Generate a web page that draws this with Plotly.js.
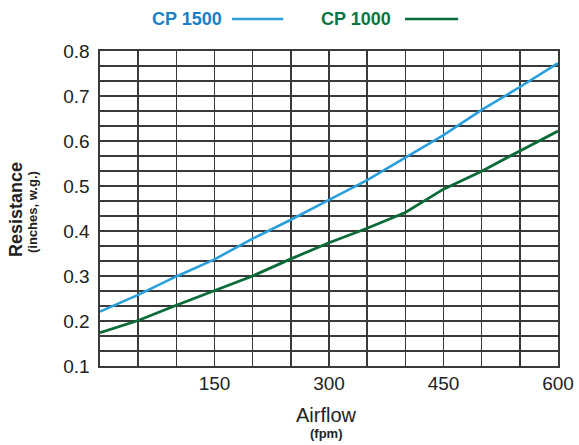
<!DOCTYPE html>
<html>
<head>
<meta charset="utf-8">
<script src="https://cdn.plot.ly/plotly-3.0.1.min.js"></script>
<style>html,body{margin:0;padding:0;background:#fff;}#chart{width:579px;height:445px;}</style>
</head>
<body>
<div id="chart"></div>
<script>
const airflow = [0, 50, 100, 150, 200, 250, 300, 350, 400, 450, 500, 550, 600];
const cp1500 = [0.221, 0.258, 0.299, 0.337, 0.383, 0.425, 0.469, 0.513, 0.563, 0.613, 0.669, 0.720, 0.773];
const cp1000 = [0.174, 0.201, 0.235, 0.267, 0.300, 0.338, 0.374, 0.406, 0.441, 0.493, 0.533, 0.578, 0.622];
const xTickVals = [150, 300, 450, 600];
const yTickVals = [0.1, 0.2, 0.3, 0.4, 0.5, 0.6, 0.7, 0.8];
const seriesNames = ["CP 1500", "CP 1000"];
const xTitle = "Airflow", xUnit = "(fpm)";
const yTitle = "Resistance", yUnit = "(inches, w.g.)";

const FONT = "'Liberation Sans', Arial, sans-serif";
const blue = "#2a9fdb", blueText = "#1a7fc6";
const green = "#0b6b38", greenText = "#0b7540";
const gridCol = "#3a3a3a";
const PH = 445 - 51 - 79, PW = 579 - 100 - 21;

const traces = [
  {x: airflow, y: cp1500, mode: "lines", name: seriesNames[0], line: {color: blue, width: 2.6}, hoverinfo: "x+y"},
  {x: airflow, y: cp1000, mode: "lines", name: seriesNames[1], line: {color: green, width: 2.8}, hoverinfo: "x+y"}
];

const legendY = 1 + 32 / PH;
const layout = {
  width: 579, height: 445,
  margin: {l: 100, r: 21, t: 51, b: 79},
  paper_bgcolor: "#fff", plot_bgcolor: "#fff",
  showlegend: false,
  font: {family: FONT, color: "#222"},
  xaxis: {
    range: [0, 600], tickvals: xTickVals, ticks: "",
    showgrid: true, gridcolor: gridCol, gridwidth: 1.4,
    minor: {dtick: 50, tick0: 0, showgrid: true, gridcolor: gridCol, gridwidth: 1.4, ticks: ""},
    showline: true, mirror: true, linecolor: gridCol, linewidth: 1.6,
    zeroline: false,
    tickfont: {size: 19, family: FONT, color: "#222"}
  },
  yaxis: {
    range: [0.1, 0.8], tickvals: yTickVals, tickformat: ".1f", ticks: "",
    showgrid: true, gridcolor: gridCol, gridwidth: 1.4,
    minor: {dtick: 1/30, tick0: 0.1, showgrid: true, gridcolor: gridCol, gridwidth: 1.4, ticks: ""},
    showline: true, mirror: true, linecolor: gridCol, linewidth: 1.6,
    zeroline: false,
    ticklabelstandoff: 5,
    tickfont: {size: 19, family: FONT, color: "#222"}
  },
  annotations: [
    {xref: "paper", yref: "paper", x: 0.11, y: legendY, xanchor: "left", yanchor: "middle", showarrow: false,
     text: "<b>" + seriesNames[0] + "</b>", font: {size: 18, family: FONT, color: blueText}},
    {xref: "paper", yref: "paper", x: 0.478, y: legendY, xanchor: "left", yanchor: "middle", showarrow: false,
     text: "<b>" + seriesNames[1] + "</b>", font: {size: 18, family: FONT, color: greenText}},
    {xref: "paper", yref: "paper", x: (326 - 100) / PW, y: (366 - 415) / PH, xanchor: "center", yanchor: "middle", showarrow: false,
     text: xTitle, font: {size: 20, family: FONT, color: "#222"}},
    {xref: "paper", yref: "paper", x: (326 - 100) / PW, y: (366 - 433) / PH, xanchor: "center", yanchor: "middle", showarrow: false,
     text: "<b>" + xUnit + "</b>", font: {size: 13, family: FONT, color: "#222"}},
    {xref: "paper", yref: "paper", x: (16 - 100) / PW, y: (366 - 210) / PH, xanchor: "center", yanchor: "middle", showarrow: false,
     textangle: -90, text: "<b>" + yTitle + "</b>", font: {size: 18, family: FONT, color: "#222"}},
    {xref: "paper", yref: "paper", x: (32 - 100) / PW, y: (366 - 212) / PH, xanchor: "center", yanchor: "middle", showarrow: false,
     textangle: -90, text: "<b>" + yUnit + "</b>", font: {size: 13, family: FONT, color: "#222"}}
  ],
  shapes: [
    {type: "line", xref: "paper", yref: "paper", x0: 0.288, x1: 0.40, y0: legendY, y1: legendY, line: {color: blue, width: 2.4}},
    {type: "line", xref: "paper", yref: "paper", x0: 0.666, x1: 0.782, y0: legendY, y1: legendY, line: {color: green, width: 2.4}}
  ]
};

Plotly.newPlot("chart", traces, layout, {displayModeBar: false, staticPlot: true});
</script>
</body>
</html>
